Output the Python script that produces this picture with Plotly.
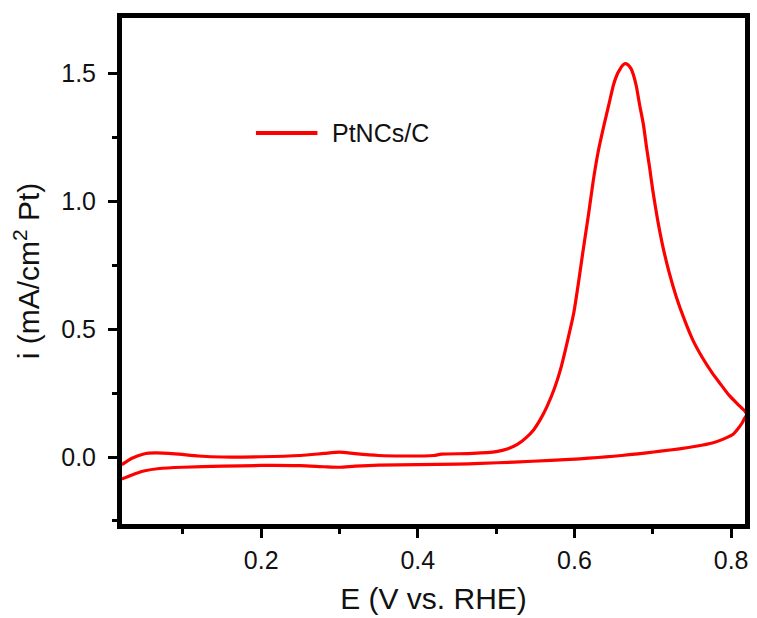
import plotly.graph_objects as go

# Forward (anodic) scan: potential (V vs. RHE) and current density (mA/cm2 Pt)
potential_forward = [0.022, 0.035, 0.05, 0.065, 0.09, 0.12, 0.15, 0.2, 0.25, 0.28, 0.30, 0.32,
                     0.35, 0.38, 0.42, 0.43, 0.47, 0.50, 0.515, 0.527, 0.538, 0.548, 0.557,
                     0.565, 0.574, 0.582, 0.590, 0.599, 0.605, 0.611, 0.618, 0.624, 0.630,
                     0.637, 0.644, 0.650, 0.655, 0.658, 0.661, 0.664, 0.668, 0.672, 0.675,
                     0.679, 0.683, 0.688, 0.692, 0.696, 0.700, 0.706, 0.713, 0.721, 0.730,
                     0.740, 0.751, 0.763, 0.776, 0.787, 0.797, 0.808, 0.818]
current_forward = [-0.03, -0.005, 0.012, 0.016, 0.012, 0.004, 0.0, 0.001, 0.006, 0.014, 0.019, 0.013,
                   0.006, 0.004, 0.006, 0.011, 0.014, 0.021, 0.032, 0.049, 0.075, 0.107, 0.15,
                   0.198, 0.265, 0.341, 0.44, 0.562, 0.68, 0.808, 0.95, 1.081, 1.19,
                   1.289, 1.38, 1.458, 1.50, 1.516, 1.53, 1.538, 1.535, 1.52, 1.497,
                   1.45, 1.38, 1.30, 1.211, 1.13, 1.042, 0.93, 0.821, 0.72, 0.626,
                   0.54, 0.458, 0.39, 0.328, 0.283, 0.243, 0.208, 0.178]

# Reverse (cathodic) scan
potential_reverse = [0.82, 0.817, 0.814, 0.808, 0.802, 0.79, 0.776, 0.755, 0.734, 0.71, 0.692,
                     0.67, 0.65, 0.63, 0.607, 0.57, 0.523, 0.48, 0.45, 0.40, 0.35, 0.32, 0.30,
                     0.28, 0.25, 0.20, 0.15, 0.10, 0.07, 0.05, 0.035, 0.022]
current_reverse = [0.165, 0.15, 0.133, 0.108, 0.088, 0.07, 0.055, 0.042, 0.032, 0.023, 0.016,
                   0.009, 0.003, -0.002, -0.007, -0.013, -0.02, -0.025, -0.028, -0.03, -0.032, -0.036, -0.04,
                   -0.038, -0.034, -0.033, -0.036, -0.04, -0.045, -0.055, -0.07, -0.086]

series_name = "PtNCs/C"
x_tick_values = [0.2, 0.4, 0.6, 0.8]
x_tick_labels = ["0.2", "0.4", "0.6", "0.8"]
y_tick_values = [0.0, 0.5, 1.0, 1.5]
y_tick_labels = ["0.0", "0.5", "1.0", "1.5"]

RED = "#ff0000"
FONT = "Liberation Sans, Arial, sans-serif"

fig = go.Figure()
fig.add_trace(go.Scatter(
    x=potential_forward + potential_reverse,
    y=current_forward + current_reverse,
    mode="lines",
    line=dict(color=RED, width=3.2, shape="spline", smoothing=0.6),
    name=series_name,
    showlegend=False,
))

axis_common = dict(
    showline=True, linecolor="black", linewidth=5, mirror=True,
    ticks="outside", ticklen=9, tickwidth=3, tickcolor="black",
    showgrid=False, zeroline=False,
    tickfont=dict(family=FONT, size=25, color="#111111"),
)

fig.update_xaxes(
    range=[0.0223, 0.8177],
    tickvals=x_tick_values, ticktext=x_tick_labels,
    ticklabelstandoff=1,
    minor=dict(dtick=0.1, tick0=0.0, ticks="outside", ticklen=5, tickwidth=3, tickcolor="black"),
    title=dict(text="E (V vs. RHE)", font=dict(family=FONT, size=30, color="#111111"), standoff=16),
    **axis_common,
)
fig.update_yaxes(
    range=[-0.262, 1.717],
    tickvals=y_tick_values, ticktext=y_tick_labels,
    ticklabelstandoff=7,
    minor=dict(dtick=0.25, tick0=0.0, ticks="outside", ticklen=5, tickwidth=3, tickcolor="black"),
    title=dict(text="i (mA/cm<sup>2</sup> Pt)", font=dict(family=FONT, size=30, color="#111111"), standoff=14),
    **axis_common,
)

# Legend drawn inside the plot (long line sample + label)
fig.add_shape(type="line", xref="paper", yref="paper",
              x0=0.215, x1=0.3137, y0=0.7727, y1=0.7727,
              line=dict(color=RED, width=4))
fig.add_annotation(xref="paper", yref="paper", x=0.334, y=0.7727,
                   xanchor="left", yanchor="middle", showarrow=False,
                   text=series_name, font=dict(family=FONT, size=25, color="#111111"))

fig.update_layout(
    width=757, height=618,
    margin=dict(l=122, r=7, t=18, b=94),
    paper_bgcolor="white", plot_bgcolor="white",
)

fig.write_html("out.html",
               config={"displayModeBar": False},
               post_script="document.body.style.margin='0';document.body.style.overflow='hidden';")
